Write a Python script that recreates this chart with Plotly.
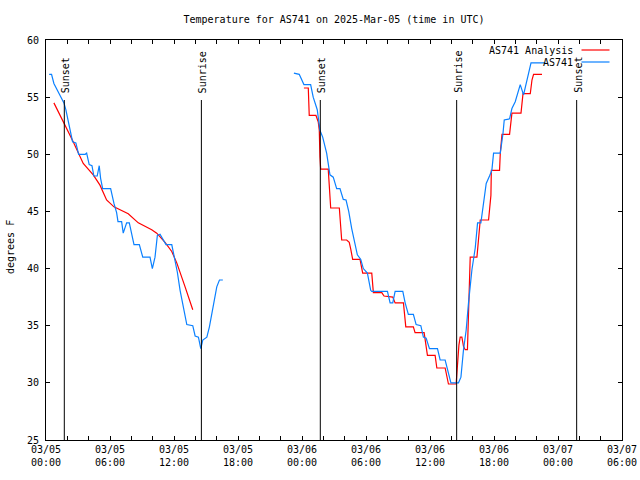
import pandas as pd
import plotly.graph_objects as go

START = pd.Timestamp("2025-03-05 00:00")

# Observed (AS741): hours since 03/05 00:00 UTC, temperature degF
obs_hours_1 = [0.30, 0.52, 0.74, 1.68, 1.86, 2.24, 2.49, 2.80, 3.06, 3.68, 3.81, 4.05, 4.31, 4.49, 4.80,
               4.99, 5.12, 5.31, 6.06, 6.37, 6.62, 6.75, 7.09, 7.24, 7.56, 7.81, 8.25, 8.75, 9.07, 9.75,
               9.97, 10.22, 10.44, 10.69, 11.25, 11.79, 12.10, 12.31, 12.57, 12.88, 13.20, 13.76, 13.98,
               14.29, 14.51, 14.70, 15.08, 15.32, 16.01, 16.26, 16.58]
obs_temps_1 = [57.0, 57.0, 56.2, 54.5, 53.9, 52.1, 51.1, 51.0, 50.0, 50.0, 50.1, 49.1, 49.0, 48.1, 48.1,
               49.0, 47.9, 47.0, 47.0, 45.7, 44.9, 44.1, 44.1, 43.1, 44.0, 44.0, 42.1, 42.1, 41.0, 41.0,
               40.0, 41.0, 42.9, 43.0, 42.1, 42.1, 40.7, 39.7, 38.1, 36.7, 35.1, 35.0, 34.1,
               34.0, 33.0, 33.75, 34.0, 34.9, 38.4, 39.0, 39.0]
obs_hours_2 = [23.24, 23.74, 24.18, 24.81, 25.05, 25.43, 25.68, 25.94, 26.31, 26.62, 26.93, 27.25, 27.56,
               27.87, 28.13, 28.38, 28.66, 28.97, 29.19, 29.51, 29.75, 30.13, 30.44, 30.54, 32.01, 32.26,
               32.51, 32.73, 33.45, 33.67, 33.97, 34.44, 34.70, 35.14, 35.38, 35.64, 35.95, 36.70, 36.95,
               37.42, 37.67, 37.96, 38.67, 38.90, 39.14, 39.39, 39.61, 39.93, 40.24, 40.46, 40.77, 41.02,
               41.27, 41.58, 41.80, 41.96, 42.59, 42.84, 42.96, 43.46, 43.68, 43.99, 44.21, 44.46, 44.77,
               45.03, 45.24, 45.47, 46.80]
obs_temps_2 = [57.1, 57.0, 56.1, 56.1, 55.0, 53.9, 52.1, 51.5, 50.1, 48.2, 48.0, 47.0, 47.0,
               46.05, 46.0, 45.0, 43.5, 42.1, 41.2, 40.8, 40.0, 39.6, 38.1, 38.0, 38.0, 37.0,
               37.0, 38.0, 38.0, 37.0, 36.0, 36.0, 35.1, 35.0, 34.0, 33.9, 33.0, 33.0, 32.0,
               32.0, 31.0, 30.0, 30.0, 30.5, 32.9, 34.6, 37.0, 39.9, 41.8, 44.0, 44.0, 45.7,
               47.45, 48.1, 48.6, 50.1, 50.1, 51.8, 53.0, 53.1, 54.0, 54.6, 55.3, 56.1, 55.2,
               56.2, 57.1, 58.0, 58.0]

# Analysis (AS741 Analysis)
ana_hours_1 = [0.74, 1.77, 2.55, 3.49, 4.43, 5.06, 5.68, 6.37, 7.71, 8.65, 9.91, 10.38, 11.16, 11.79,
               12.26, 13.04, 13.76]
ana_temps_1 = [54.5, 52.6, 51.1, 49.2, 48.2, 47.3, 46.0, 45.4, 44.8, 44.0, 43.4, 43.1, 42.3, 41.5,
               40.5, 38.4, 36.4]
ana_hours_2 = [24.18, 24.59, 24.68, 25.31, 25.52, 25.62, 25.68, 25.75, 26.46, 26.55, 26.69, 27.50, 27.63,
               27.72, 28.19, 28.43, 28.57, 28.75, 29.44, 29.60, 29.69, 30.54, 30.69, 31.48, 31.69, 32.51,
               32.73, 33.51, 33.67, 33.73, 34.44, 34.60, 35.45, 35.64, 35.76, 36.48, 36.64, 37.42, 37.58,
               37.73, 38.45, 38.58, 38.71, 38.83, 38.99, 39.14, 39.30, 39.51, 39.61, 39.70, 39.77, 40.40,
               40.55, 40.71, 41.49, 41.58, 41.71, 41.75, 42.52, 42.59, 42.75, 43.46, 43.52, 43.68, 44.53,
               44.62, 44.72, 45.40, 45.56, 45.71, 46.50]
ana_temps_2 = [55.8, 55.8, 53.4, 53.4, 52.85, 52.1, 49.8, 48.7, 48.7, 47.0, 45.3, 45.3, 43.2,
               42.5, 42.5, 42.3, 41.7, 40.8, 40.8, 40.2, 39.6, 39.6, 37.9, 37.9, 37.6, 37.5,
               37.0, 37.0, 35.5, 34.9, 34.9, 34.4, 34.4, 33.3, 32.4, 32.4, 31.3, 31.3, 30.4,
               29.9, 29.9, 32.0, 33.3, 34.0, 34.0, 33.2, 32.9, 32.9, 35.8, 38.7, 41.0, 41.0,
               42.5, 44.25, 44.25, 45.4, 46.4, 48.6, 48.6, 50.1, 51.75, 51.75, 52.4, 53.6, 53.6,
               54.6, 55.3, 55.3, 56.5, 57.0, 57.0]

sun_labels = ["Sunset", "Sunrise", "Sunset", "Sunrise", "Sunset"]
sun_times = ["2025-03-05 01:43", "2025-03-05 14:34", "2025-03-06 01:43", "2025-03-06 14:30", "2025-03-07 01:45"]

series_names = ["AS741 Analysis", "AS741"]
series_colors = ["#ff0000", "#0a80ff"]

x_range = ["2025-03-05 00:00", "2025-03-07 06:00"]
y_range = [25, 60]


def to_times(hours):
    return [START + pd.Timedelta(hours=h) for h in hours]


def join(h1, t1, h2, t2):
    return to_times(h1) + [None] + to_times(h2), list(t1) + [None] + list(t2)


FONT = "DejaVu Sans Mono"

fig = go.Figure()
ax, ay = join(ana_hours_1, ana_temps_1, ana_hours_2, ana_temps_2)
ox, oy = join(obs_hours_1, obs_temps_1, obs_hours_2, obs_temps_2)
fig.add_trace(go.Scatter(x=ax, y=ay, mode="lines", name=series_names[0],
                         line=dict(color=series_colors[0], width=1.2), connectgaps=False))
fig.add_trace(go.Scatter(x=ox, y=oy, mode="lines", name=series_names[1],
                         line=dict(color=series_colors[1], width=1.2), connectgaps=False))

top_line = 0.85
for lab, t in zip(sun_labels, sun_times):
    fig.add_shape(type="line", xref="x", yref="paper", x0=t, x1=t, y0=0, y1=top_line,
                  line=dict(color="black", width=1))
    fig.add_annotation(x=t, y=0.8625, xref="x", yref="paper", text=lab, textangle=-90,
                       showarrow=False, xanchor="center", yanchor="bottom", xshift=2,
                       font=dict(family=FONT, size=10, color="black"))

# legend (gnuplot style: text then sample on the right)
leg_y = [(440 - 50) / 400, (440 - 62) / 400]
for name, col, yy in zip(series_names, series_colors, leg_y):
    fig.add_annotation(x=(574.5 - 46) / 576, y=yy, xref="paper", yref="paper", text=name,
                       showarrow=False, xanchor="right", yanchor="middle",
                       font=dict(family=FONT, size=10, color="black"))
    fig.add_shape(type="line", xref="paper", yref="paper", x0=(581.5 - 46) / 576,
                  x1=(609.5 - 46) / 576, y0=yy, y1=yy, line=dict(color=col, width=1.2))

fig.add_annotation(x=(10 - 46) / 576, y=(440 - 247) / 400, xref="paper", yref="paper",
                   text="degrees F", textangle=-90, showarrow=False, xanchor="center",
                   yanchor="middle", font=dict(family=FONT, size=10, color="black"))

fig.update_layout(
    width=640, height=480,
    margin=dict(l=46, r=18, t=40, b=40, pad=0, autoexpand=False),
    paper_bgcolor="white", plot_bgcolor="white",
    showlegend=False,
    title=dict(text="Temperature for AS741 on 2025-Mar-05 (time in UTC)",
               x=(334) / 640, xanchor="center", y=1 - 19 / 480, yanchor="middle",
               font=dict(family=FONT, size=10, color="black")),
    font=dict(family=FONT, size=10, color="black"),
)
fig.update_xaxes(range=x_range, type="date", showgrid=False, zeroline=False, automargin=False,
                 showline=True, linecolor="black", linewidth=1, mirror="allticks",
                 ticks="inside", ticklen=4, tickcolor="black", dtick=6 * 3600 * 1000,
                 tick0="2025-03-05 00:00", tickformat="%m/%d<br>%H:%M",
                 minor=dict(ticks="inside", ticklen=4, dtick=2 * 3600 * 1000, tickcolor="black",
                            showgrid=False),
                 tickfont=dict(family=FONT, size=10, color="black"))
fig.update_yaxes(range=y_range, showgrid=False, zeroline=False, showline=True, linecolor="black",
                 linewidth=1, mirror="allticks", ticks="inside", ticklen=4, tickcolor="black",
                 dtick=5, tick0=25, ticklabelstandoff=4, automargin=False,
                 tickfont=dict(family=FONT, size=10, color="black"))

fig.write_html("out.html", config={"displayModeBar": False},
               post_script="document.body.style.margin='0px';document.body.style.overflow='hidden';")
